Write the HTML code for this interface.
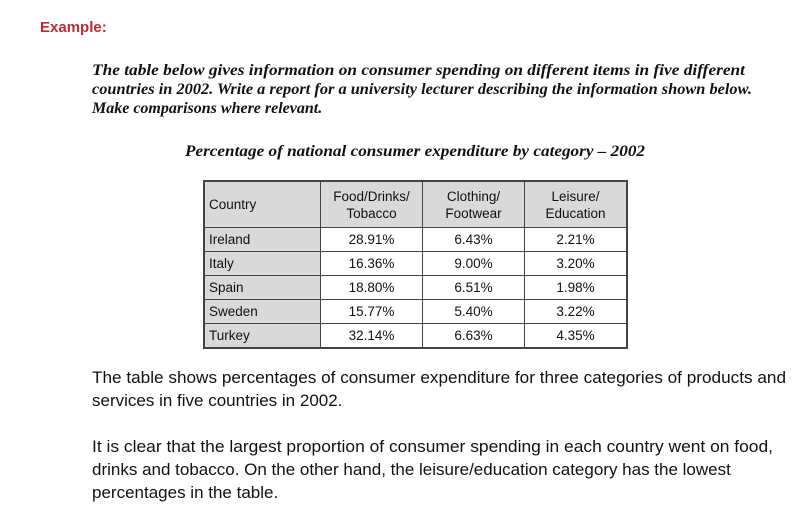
<!DOCTYPE html>
<html><head><meta charset="utf-8">
<style>
body{margin:0;width:802px;height:508px;background:#fff;position:relative;overflow:hidden}
.t{position:absolute;white-space:nowrap;transform-origin:0 0}
.ex{left:40px;top:19px;font:bold 15px "Liberation Sans",sans-serif;color:#c0282d}
.q{font:bold italic 16px "Liberation Serif",serif;color:#111}
.b{font:17px "Liberation Sans",sans-serif;color:#111}
table{position:absolute;left:203px;top:180px;border-collapse:collapse;font:13.5px "Liberation Sans",sans-serif;color:#111;border:2px solid #444}
td{border:1px solid #444;height:23px;padding:0 4px;text-align:center}
td.c{background:#d9d9d9;text-align:left;width:107px}
tr.h td{background:#d9d9d9;height:45px;line-height:17px}
td.v{width:93px}
</style></head><body>
<div class="t ex">Example:</div>
<div class="t q fit" data-w="653" style="left:92px;top:62px">The table below gives information on consumer spending on different items in five different</div>
<div class="t q fit" data-w="660" style="left:92px;top:81px">countries in 2002. Write a report for a university lecturer describing the information shown below.</div>
<div class="t q" style="left:92px;top:100px">Make comparisons where relevant.</div>
<div class="t q fit" data-w="460" style="left:185px;top:143px">Percentage of national consumer expenditure by category – 2002</div>
<table>
<tr class="h"><td class="c">Country</td><td class="v">Food/Drinks/<br>Tobacco</td><td class="v">Clothing/<br>Footwear</td><td class="v">Leisure/<br>Education</td></tr>
<tr><td class="c">Ireland</td><td>28.91%</td><td>6.43%</td><td>2.21%</td></tr>
<tr><td class="c">Italy</td><td>16.36%</td><td>9.00%</td><td>3.20%</td></tr>
<tr><td class="c">Spain</td><td>18.80%</td><td>6.51%</td><td>1.98%</td></tr>
<tr><td class="c">Sweden</td><td>15.77%</td><td>5.40%</td><td>3.22%</td></tr>
<tr><td class="c">Turkey</td><td>32.14%</td><td>6.63%</td><td>4.35%</td></tr>
</table>
<div class="t b fit" data-w="694" style="left:92px;top:368px">The table shows percentages of consumer expenditure for three categories of products and</div>
<div class="t b" style="left:92px;top:391px">services in five countries in 2002.</div>
<div class="t b fit" data-w="681" style="left:92px;top:437px">It is clear that the largest proportion of consumer spending in each country went on food,</div>
<div class="t b" style="left:92px;top:460px">drinks and tobacco. On the other hand, the leisure/education category has the lowest</div>
<div class="t b" style="left:92px;top:483px">percentages in the table.</div>
<script>
document.querySelectorAll('.fit').forEach(function(e){
  var w=e.getBoundingClientRect().width, tw=+e.getAttribute('data-w');
  if(w>0) e.style.transform='scaleX('+(tw/w)+')';
});
</script>
</body></html>
